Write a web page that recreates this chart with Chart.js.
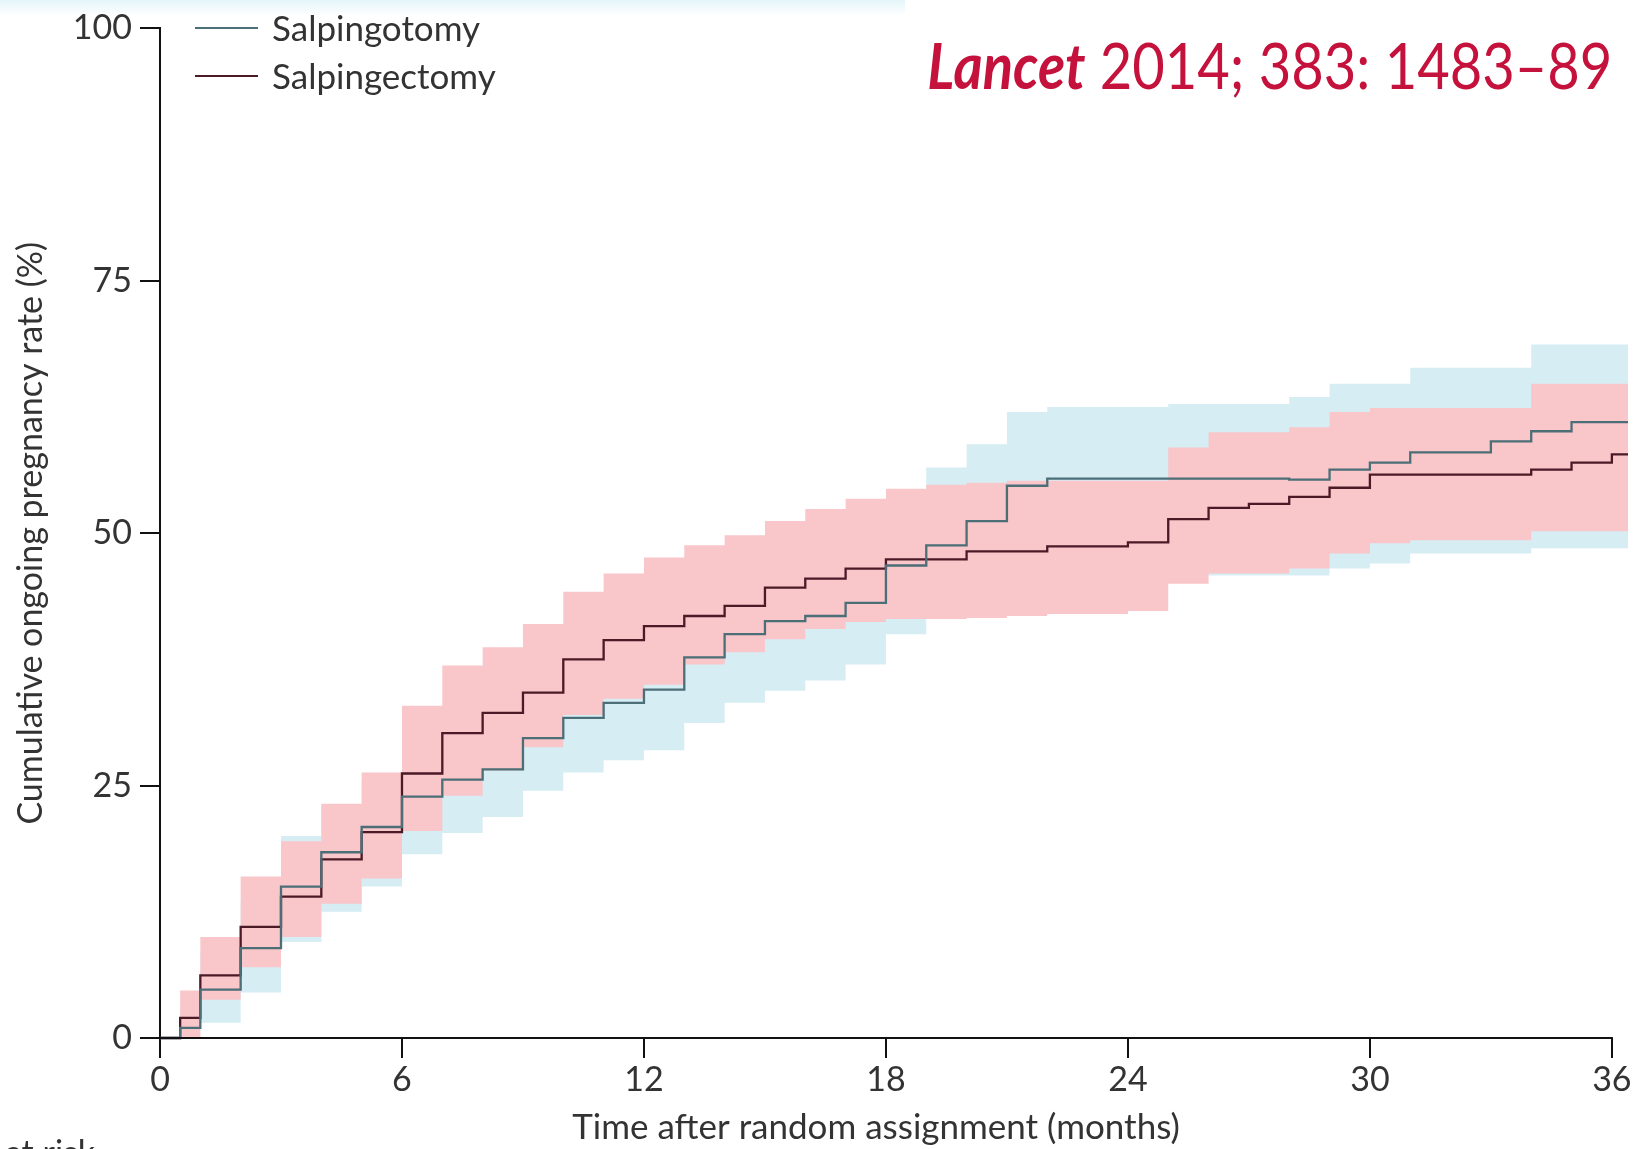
<!DOCTYPE html>
<html>
<head>
<meta charset="utf-8">
<title>Salpingotomy vs salpingectomy</title>
<script src="https://cdn.jsdelivr.net/npm/chart.js@4.4.0/dist/chart.umd.min.js"></script>
<style>
  body { margin: 0; background: #fff; }
  #wrap { position: relative; width: 1652px; height: 1149px; overflow: hidden; background: #fff; font-family: Lato, sans-serif; }
  #faixa { position: absolute; left: 0; top: 0; width: 905px; height: 16px; background: linear-gradient(#e4f5f9, #ffffff); }
  #grafico { position: absolute; left: 0; top: 0; }
  .leg-linha { position: absolute; left: 195px; width: 63px; height: 2px; }
  .leg-texto { position: absolute; left: 272px; font-size: 35px; line-height: 40px; color: #333; }
  #lancet { position: absolute; right: 40px; top: 33px; font-size: 64px; line-height: 1; color: #c4123c; white-space: nowrap; transform-origin: right center; }
  #lancet b { font-style: italic; }
  #risco { position: absolute; left: -125px; top: 1131px; font-size: 34px; color: #333; white-space: nowrap; }
</style>
</head>
<body>
<div id="wrap">
  <div id="faixa"></div>
  <canvas id="grafico" width="1652" height="1149"></canvas>
  <div class="leg-linha" style="top:27px;background:#4c6e77"></div>
  <div class="leg-texto" style="top:7px">Salpingotomy</div>
  <div class="leg-linha" style="top:75px;background:#4a1a26"></div>
  <div class="leg-texto" style="top:55px">Salpingectomy</div>
  <div id="lancet"><b>Lancet</b> 2014; 383: 1483–89</div>
  <div id="risco">Number at risk</div>
</div>
<script>
// meses (tempo após randomização) onde cada degrau começa
const months = [0, 0.5, 1, 2, 3, 4, 5, 6, 7, 8, 9, 10, 11, 12, 13, 14, 15, 16, 17, 18, 19, 20,
  21, 22, 23, 24, 25, 26, 27, 28, 29, 30, 31, 32, 33, 34, 35, 36, 36.4];

// taxa cumulativa de gravidez (%)
const salpingotomy = [0, 1.0, 4.8, 8.9, 15.0, 18.4, 20.9, 23.9, 25.6, 26.6, 29.7, 31.7, 33.2, 34.5, 37.7, 40.0,
  41.3, 41.8, 43.1, 46.8, 48.8, 51.2, 54.7, 55.4, 55.4, 55.4, 55.4, 55.4, 55.4, 55.3, 56.3, 57.0,
  58.0, 58.0, 59.1, 60.1, 61.0, 61.0, 61.0];
const salpingectomy = [0, 2.0, 6.2, 11.0, 14.0, 17.7, 20.4, 26.2, 30.2, 32.2, 34.2, 37.5, 39.4, 40.8, 41.8, 42.8,
  44.6, 45.5, 46.5, 47.4, 47.4, 48.2, 48.2, 48.7, 48.7, 49.1, 51.4, 52.5, 52.9, 53.6, 54.5, 55.8,
  55.8, 55.8, 55.8, 56.3, 57.0, 57.8, 57.8];

// intervalos de confiança 95%
const salpingotomyLower = [0, 0, 1.5, 4.5, 9.5, 12.5, 15.0, 18.2, 20.3, 21.9, 24.5, 26.3, 27.5, 28.5, 31.2, 33.2,
  34.4, 35.4, 37.0, 40.0, 41.8, 43.5, 45.3, 45.8, 45.8, 45.8, 45.8, 45.8, 45.8, 45.8, 46.5, 47.0,
  48.0, 48.0, 48.0, 48.5, 48.5, 48.5, 48.5];
const salpingotomyUpper = [0, 3.0, 8.5, 13.5, 20.0, 23.0, 25.5, 29.0, 31.0, 32.0, 35.5, 37.5, 39.0, 40.5, 44.0, 46.5,
  48.0, 48.5, 50.0, 53.5, 56.5, 58.8, 62.0, 62.5, 62.5, 62.5, 62.8, 62.8, 62.8, 63.5, 64.8, 64.8,
  66.4, 66.4, 66.4, 68.7, 68.7, 68.7, 68.7];
const salpingectomyLower = [0, 0, 3.8, 7.0, 10.0, 13.3, 15.8, 20.5, 24.0, 26.5, 28.8, 32.0, 33.6, 35.0, 37.0, 38.2,
  39.5, 40.5, 41.2, 41.5, 41.5, 41.6, 41.8, 42.0, 42.0, 42.3, 45.0, 46.0, 46.0, 46.5, 48.0, 49.0,
  49.3, 49.3, 49.3, 50.2, 50.2, 50.2, 50.2];
const salpingectomyUpper = [0, 4.7, 10.0, 16.0, 19.5, 23.2, 26.3, 32.9, 36.9, 38.7, 41.0, 44.2, 46.0, 47.6, 48.8, 49.8,
  51.2, 52.4, 53.4, 54.4, 54.8, 55.0, 55.2, 55.2, 55.2, 55.2, 58.5, 60.0, 60.0, 60.5, 62.0, 62.4,
  62.4, 62.4, 62.4, 64.8, 64.8, 64.8, 64.8];

const xTicks = [0, 6, 12, 18, 24, 30, 36];
const yTicks = [0, 25, 50, 75, 100];

function pontos(valores) {
    return valores.map(function (v, i) { return { x: months[i], y: v }; });
}

function serie(valores, extra) {
    return Object.assign({
        data: pontos(valores),
        stepped: true,
        pointRadius: 0,
        borderWidth: 0,
        fill: false,
        clip: false
    }, extra);
}

const rosa = '#f9c6ca';
const azul = '#d6edf4';

const dados = {
    datasets: [
        serie(salpingotomy, { label: 'Salpingotomy', borderColor: '#4c6e77', borderWidth: 2.3, order: 0 }),
        serie(salpingectomy, { label: 'Salpingectomy', borderColor: '#4a1a26', borderWidth: 2.3, order: 0 }),
        serie(salpingectomyLower, { label: 'ic1', borderColor: rosa, order: 1 }),
        serie(salpingectomyUpper, { label: 'ic2', borderColor: rosa, backgroundColor: rosa, fill: 2, order: 1 }),
        serie(salpingotomyLower, { label: 'ic3', borderColor: azul, order: 2 }),
        serie(salpingotomyUpper, { label: 'ic4', borderColor: azul, backgroundColor: azul, fill: 4, order: 2 })
    ]
};

// linha do eixo x só até 36 meses (as curvas passam um pouco além)
const linhaEixoX = {
    id: 'linhaEixoX',
    afterDatasetsDraw: function (chart) {
        const x = chart.scales.x;
        const ctx = chart.ctx;
        ctx.save();
        ctx.strokeStyle = '#111';
        ctx.lineWidth = 2;
        ctx.beginPath();
        ctx.moveTo(x.getPixelForValue(0) - 1, chart.chartArea.bottom);
        ctx.lineTo(x.getPixelForValue(36) + 1, chart.chartArea.bottom);
        ctx.stroke();
        ctx.restore();
    }
};

Chart.defaults.font.family = 'Lato, sans-serif';
Chart.defaults.color = '#333';

const eixo = {
    display: true,
    drawOnChartArea: false,
    drawTicks: true,
    tickLength: 20,
    color: '#111',
    lineWidth: 2
};

const config = {
    type: 'line',
    data: dados,
    plugins: [linhaEixoX],
    options: {
        responsive: false,
        animation: false,
        devicePixelRatio: 1,
        layout: { padding: { left: 0, right: 24, top: 27, bottom: 0 } },
        plugins: { legend: { display: false }, tooltip: { enabled: false } },
        scales: {
            x: {
                type: 'linear',
                min: 0,
                max: 36.4,
                afterBuildTicks: function (s) { s.ticks = xTicks.map(function (v) { return { value: v }; }); },
                afterFit: function (s) { s.height = 111; },
                grid: eixo,
                border: { display: false },
                ticks: { font: { size: 34 }, padding: 2, color: '#333', maxRotation: 0 },
                title: {
                    display: true,
                    // espaços no fim centram o título sob 0–36 e não sob 0–36.4
                    text: 'Time after random assignment (months)\u00a0\u00a0\u00a0\u00a0',
                    font: { size: 35 },
                    color: '#333',
                    padding: { top: 1, bottom: 0 }
                }
            },
            y: {
                type: 'linear',
                min: 0,
                max: 100,
                afterBuildTicks: function (s) { s.ticks = yTicks.map(function (v) { return { value: v }; }); },
                afterFit: function (s) { s.width = 160; },
                grid: eixo,
                border: { display: true, color: '#111', width: 2 },
                ticks: { font: { size: 34 }, padding: 8, color: '#333' },
                title: {
                    display: true,
                    text: 'Cumulative ongoing pregnancy rate (%)',
                    font: { size: 34 },
                    color: '#333',
                    padding: { top: 11, bottom: 0 }
                }
            }
        }
    }
};

let myChart = new Chart(document.getElementById('grafico'), config);

// ajusta a largura da referência da revista
const lancet = document.getElementById('lancet');
const larg = lancet.getBoundingClientRect().width;
lancet.style.transform = 'scaleX(' + (685 / larg) + ')';
</script>
</body>
</html>
